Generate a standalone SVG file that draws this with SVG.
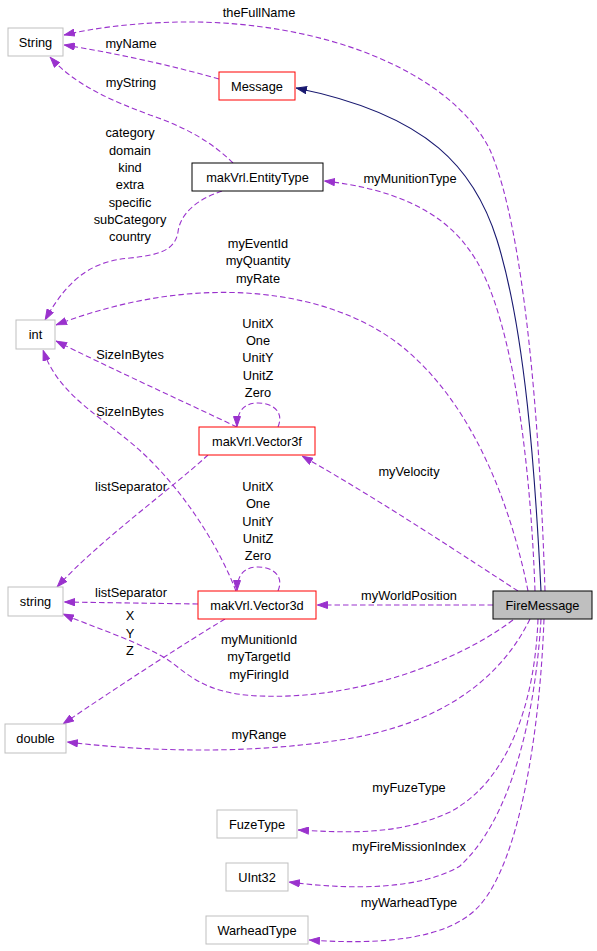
<svg xmlns="http://www.w3.org/2000/svg" width="597" height="951" viewBox="0 0 597 951">
<style>
text{font-family:"Liberation Sans",Arial,sans-serif;font-size:12.8px;fill:#000;text-anchor:middle}
.n rect{fill:#fff;stroke:#bfbfbf;stroke-width:1}
.r rect{fill:#fff;stroke:#ff0000;stroke-width:1}
.b rect{fill:#fff;stroke:#000;stroke-width:1}
.g rect{fill:#bfbfbf;stroke:#000;stroke-width:1}
.e{fill:none;stroke:#9a32cd;stroke-width:1.1;stroke-dasharray:5.5,3;marker-end:url(#ap)}
.s{fill:none;stroke:#191970;stroke-width:1.1;marker-end:url(#an)}
</style>
<defs>
<marker id="ap" viewBox="0 0 11 8" refX="11" refY="4" markerWidth="11" markerHeight="8" markerUnits="userSpaceOnUse" orient="auto"><path d="M0.5,0.5 L10.5,4 L0.5,7.5 z" fill="#9a32cd" stroke="#9a32cd" stroke-width="1"/></marker>
<marker id="an" viewBox="0 0 11 8" refX="11" refY="4" markerWidth="11" markerHeight="8" markerUnits="userSpaceOnUse" orient="auto"><path d="M0.5,0.5 L10.5,4 L0.5,7.5 z" fill="#191970" stroke="#191970" stroke-width="1"/></marker>
</defs>
<rect width="597" height="951" fill="#fff"/>
<g id="connectors">
<path class="s" d="M541,591 C535,470 525,330 497,240 C475,170 430,115 296,88"/>
<path class="e" d="M545,591 C540,430 525,230 490,150 C450,70 320,20 180,22 C130,23 95,28 64,35"/>
<path class="e" d="M219,79 C170,65 110,52 64,45"/>
<path class="e" d="M233,163 C210,140 180,125 150,115 C110,100 75,85 50,57"/>
<path class="e" d="M222,191 C195,200 180,215 178,232 C175,250 160,255 130,258 C95,261 70,275 45,320"/>
<path class="e" d="M528,591 C510,500 470,400 400,345 C330,290 200,270 56,325"/>
<path class="e" d="M535,591 C530,450 510,300 467,247 C440,210 390,188 324,181"/>
<path class="e" d="M237,427 C180,400 110,368 56,341"/>
<path class="e" d="M236,591 C220,550 190,500 150,460 C110,420 60,400 43,350"/>
<path class="e" d="M278,427 C285,410 270,403 258,403 C245,403 237,410 237,427"/>
<path class="e" d="M208,455 C170,490 100,540 57,587"/>
<path class="e" d="M278,591 C285,574 270,567 258,567 C245,567 237,574 237,591"/>
<path class="e" d="M198,604 L64,602"/>
<path class="e" d="M225,619 C190,640 120,685 63,724"/>
<path class="e" d="M513,620 C460,660 360,700 260,696 C200,694 185,670 165,658 C135,640 95,628 63,614"/>
<path class="e" d="M530,619 C500,680 440,725 340,740 C250,754 150,752 67,742"/>
<path class="e" d="M518,591 C470,560 380,500 302,456"/>
<path class="e" d="M493,605 L317,605"/>
<path class="e" d="M538,619 C535,700 510,780 450,812 C400,835 350,833 298,830"/>
<path class="e" d="M541,619 C535,720 510,820 460,866 C420,890 350,890 289,882"/>
<path class="e" d="M544,619 C540,730 520,860 480,905 C450,940 380,945 309,940"/>
<text x="259" y="17">theFullName</text>
<text x="131" y="48">myName</text>
<text x="131" y="87">myString</text>
<text x="130" y="137">category</text>
<text x="130" y="155">domain</text>
<text x="130" y="172">kind</text>
<text x="130" y="189">extra</text>
<text x="130" y="207">specific</text>
<text x="130" y="224">subCategory</text>
<text x="130" y="241">country</text>
<text x="410" y="183">myMunitionType</text>
<text x="258" y="248">myEventId</text>
<text x="258" y="265">myQuantity</text>
<text x="258" y="283">myRate</text>
<text x="258" y="328">UnitX</text>
<text x="258" y="345">One</text>
<text x="258" y="362">UnitY</text>
<text x="258" y="380">UnitZ</text>
<text x="258" y="397">Zero</text>
<text x="130" y="359">SizeInBytes</text>
<text x="130" y="416">SizeInBytes</text>
<text x="409" y="476">myVelocity</text>
<text x="131" y="491">listSeparator</text>
<text x="258" y="491">UnitX</text>
<text x="258" y="508">One</text>
<text x="258" y="526">UnitY</text>
<text x="258" y="543">UnitZ</text>
<text x="258" y="560">Zero</text>
<text x="131" y="597">listSeparator</text>
<text x="409" y="600">myWorldPosition</text>
<text x="130" y="620">X</text>
<text x="130" y="638">Y</text>
<text x="130" y="655">Z</text>
<text x="259" y="644">myMunitionId</text>
<text x="259" y="661">myTargetId</text>
<text x="259" y="679">myFiringId</text>
<text x="259" y="739">myRange</text>
<text x="409" y="792">myFuzeType</text>
<text x="409" y="851">myFireMissionIndex</text>
<text x="409" y="907">myWarheadType</text>
</g>
<g id="String" class="n"><rect x="8" y="28" width="55" height="28"/><text x="35.5" y="46.5">String</text></g>
<g id="Message" class="r"><rect x="219" y="72" width="76" height="28"/><text x="257" y="90.5">Message</text></g>
<g id="EntityType" class="b"><rect x="192" y="163" width="131" height="28"/><text x="257.5" y="181.5">makVrl.EntityType</text></g>
<g id="int" class="n"><rect x="16" y="320" width="39" height="29"/><text x="35.5" y="339">int</text></g>
<g id="Vector3f" class="r"><rect x="199" y="427" width="116" height="28"/><text x="257" y="445.5">makVrl.Vector3f</text></g>
<g id="string" class="n"><rect x="8" y="587" width="55" height="29"/><text x="35.5" y="606">string</text></g>
<g id="Vector3d" class="r"><rect x="198" y="591" width="118" height="28"/><text x="257" y="609.5">makVrl.Vector3d</text></g>
<g id="FireMessage" class="g"><rect x="493" y="591" width="99" height="28"/><text x="542.5" y="609.5">FireMessage</text></g>
<g id="double" class="n"><rect x="5" y="724" width="61" height="29"/><text x="35.5" y="743">double</text></g>
<g id="FuzeType" class="n"><rect x="217" y="810" width="80" height="28"/><text x="257" y="828.5">FuzeType</text></g>
<g id="UInt32" class="n"><rect x="226" y="863" width="62" height="28"/><text x="257" y="881.5">UInt32</text></g>
<g id="WarheadType" class="n"><rect x="206" y="916" width="102" height="28"/><text x="257" y="934.5">WarheadType</text></g>
</svg>
